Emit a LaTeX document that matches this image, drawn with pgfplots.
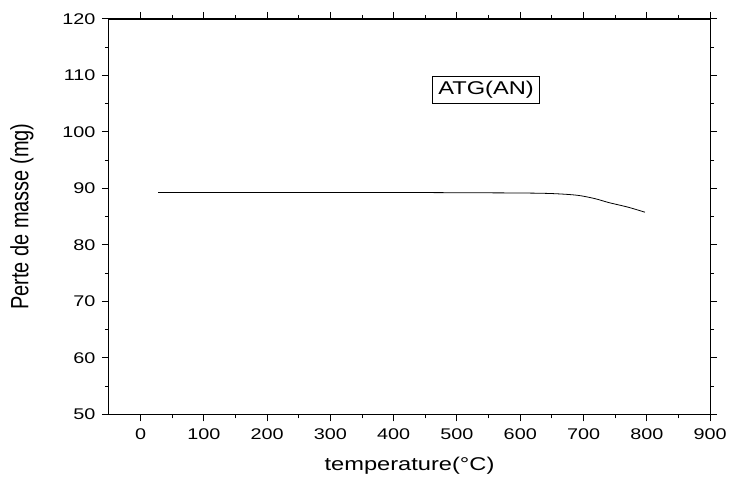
\documentclass[border=0pt]{standalone}
\usepackage{fontspec}
\setmainfont[FakeStretch=1.28]{Liberation Sans}
\newfontfamily\plainfont{Liberation Sans}
\usepackage{pgfplots}
\pgfplotsset{compat=1.18}
\begin{document}
\begin{tikzpicture}
\begin{axis}[
    name=ax,
    scale only axis,
    width=602pt, height=396pt,
    xmin=-50, xmax=900,
    ymin=50, ymax=120,
    xtick={0,100,...,900},
    ytick={50,60,...,120},
    minor x tick num=1,
    minor y tick num=1,
    tick align=outside,
    major tick length=7pt,
    minor tick length=4pt,
    tick style={black, line width=1pt},
    axis line style={line width=1.2pt},
    xlabel={temperature(°C)},
    ylabel={\scalebox{0.8}[1]{\plainfont\fontsize{25}{28}\selectfont Perte de masse (mg)}},
    every axis x label/.style={at={(axis description cs:0.5,-0.129)}, anchor=center,
        font=\fontsize{18.5}{21}\selectfont},
    every axis y label/.style={at={(axis description cs:-0.1445,0.5)}, anchor=center, rotate=90},
    tick label style={font=\fontsize{15.5}{18}\selectfont},
    xticklabel style={yshift=-4pt},
    yticklabel style={xshift=-3pt},
    /pgf/number format/assume math mode=true,
    clip=false,
]
\addplot[black, line width=0.8pt, smooth, mark=none] coordinates {
    (28,89.3) (100,89.3) (200,89.3) (300,89.3) (400,89.3) (500,89.25)
    (600,89.2) (650,89.1) (690,88.8) (718,88.2) (740,87.5) (770,86.7) (797,85.8)
};
\node[draw=black, line width=0.8pt, inner xsep=6pt, inner ysep=5pt,
      font=\fontsize{18.5}{21}\selectfont] at (axis cs:546,107.5) {ATG(AN)};
\end{axis}
\path[use as bounding box] ([xshift=-109pt,yshift=-62pt]ax.south west)
    rectangle ([xshift=19pt,yshift=19pt]ax.north east);
\end{tikzpicture}
\end{document}
